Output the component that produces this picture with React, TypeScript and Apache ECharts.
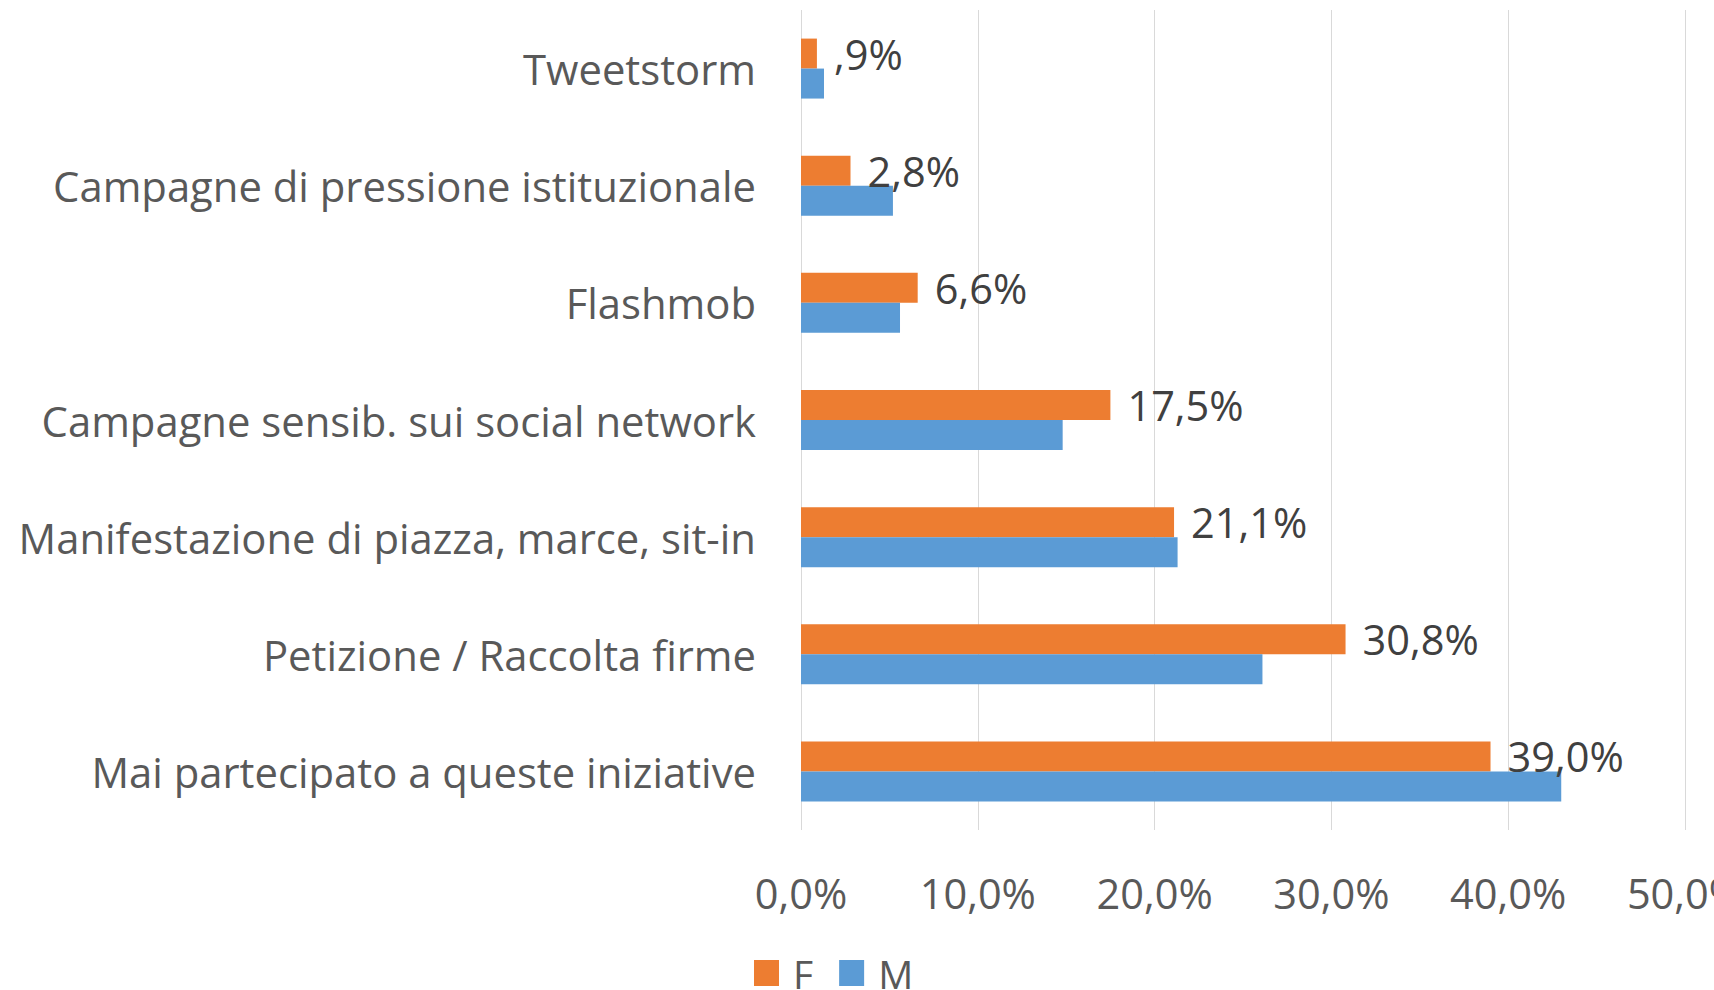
import React, { useEffect, useRef } from "react";
import * as echarts from "echarts";

const categories = [
  "Tweetstorm",
  "Campagne di pressione istituzionale",
  "Flashmob",
  "Campagne sensib. sui social network",
  "Manifestazione di piazza, marce, sit-in",
  "Petizione / Raccolta firme",
  "Mai partecipato a queste iniziative",
];
const valuesF = [0.9, 2.8, 6.6, 17.5, 21.1, 30.8, 39.0];
const valuesM = [1.3, 5.2, 5.6, 14.8, 21.3, 26.1, 43.0];
const xTicks = { min: 0, max: 50, interval: 10 };

const FONT = "'Open Sans', sans-serif";

const fmtAxis = (v: number) => v.toFixed(1).replace(".", ",") + "%";
const fmtLabel = (v: number) => {
  const s = v.toFixed(1).replace(".", ",");
  return (s.startsWith("0") ? s.slice(1) : s) + "%";
};

export default function App() {
  const ref = useRef<HTMLDivElement>(null);
  useEffect(() => {
    document.body.style.margin = "0";
    const chart = echarts.init(ref.current!, null, { renderer: "svg" });
    chart.setOption({
      animation: false,
      backgroundColor: "#ffffff",
      grid: {
        left: 801,
        right: 29,
        top: 10,
        bottom: 160,
        containLabel: false,
        outerBoundsMode: "none",
      },
      legend: {
        left: 754,
        top: 953,
        padding: 0,
        icon: "rect",
        itemWidth: 25,
        itemHeight: 26,
        itemGap: 26,
        data: ["F", "M"],
        textStyle: {
          fontFamily: FONT,
          fontSize: 39,
          lineHeight: 40,
          color: "#595959",
          padding: [0, 0, 0, 9],
        },
      },
      xAxis: {
        type: "value",
        min: xTicks.min,
        max: xTicks.max,
        interval: xTicks.interval,
        axisLine: { show: false },
        axisTick: { show: false },
        splitLine: { show: true, lineStyle: { color: "#d9d9d9", width: 1 } },
        axisLabel: {
          formatter: fmtAxis,
          fontFamily: FONT,
          fontSize: 41.5,
          lineHeight: 42,
          color: "#595959",
          margin: 42,
          hideOverlap: false,
          showMaxLabel: true,
        },
      },
      yAxis: {
        type: "category",
        inverse: true,
        data: categories,
        axisLine: { show: false },
        axisTick: { show: false },
        splitLine: { show: false },
        axisLabel: {
          fontFamily: FONT,
          fontSize: 41.8,
          color: "#595959",
          margin: 45,
          interval: 0,
        },
      },
      series: [
        {
          name: "F",
          type: "bar",
          data: valuesF,
          itemStyle: { color: "#ED7D31" },
          barGap: "0%",
          barCategoryGap: "48.8%",
          label: {
            show: true,
            position: "right",
            distance: 17,
            formatter: (p: any) => fmtLabel(p.value),
            fontFamily: FONT,
            fontSize: 41.5,
            color: "#404040",
          },
        },
        {
          name: "M",
          type: "bar",
          data: valuesM,
          itemStyle: { color: "#5B9BD5" },
          barGap: "0%",
          barCategoryGap: "48.8%",
        },
      ],
    });
    return () => chart.dispose();
  }, []);
  return <div ref={ref} style={{ width: 1714, height: 990 }} />;
}
